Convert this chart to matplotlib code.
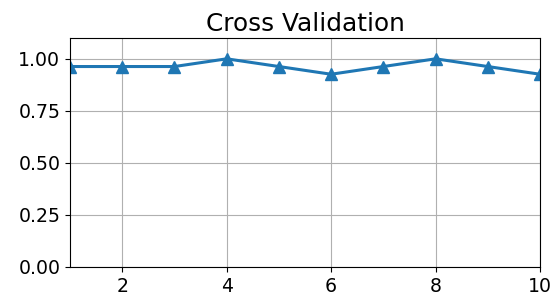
import matplotlib
matplotlib.use("Agg")
import matplotlib.pyplot as plt

folds = [1, 2, 3, 4, 5, 6, 7, 8, 9, 10]
scores = [26/27, 26/27, 26/27, 1.0, 26/27, 25/27, 26/27, 1.0, 26/27, 25/27]
x_ticks = [2, 4, 6, 8, 10]
y_ticks = [0.0, 0.25, 0.5, 0.75, 1.0]

plt.rcParams['font.size'] = 13.6
fig = plt.figure(figsize=(5.5, 3.06), dpi=100)
ax = fig.add_axes([70/550, 1 - 267/306, 470/550, 229/306])
ax.plot(folds, scores, marker='^', markersize=9, linewidth=2.2, color='#1f77b4')
ax.set_xlim(1, 10)
ax.set_ylim(0, 1.1)
ax.set_xticks(x_ticks)
ax.set_yticks(y_ticks)
ax.set_yticklabels([f"{v:.2f}" for v in y_ticks])
ax.grid(True)
ax.set_title("Cross Validation", fontsize=17.8, pad=5)
fig.savefig("out.png", dpi=100)
